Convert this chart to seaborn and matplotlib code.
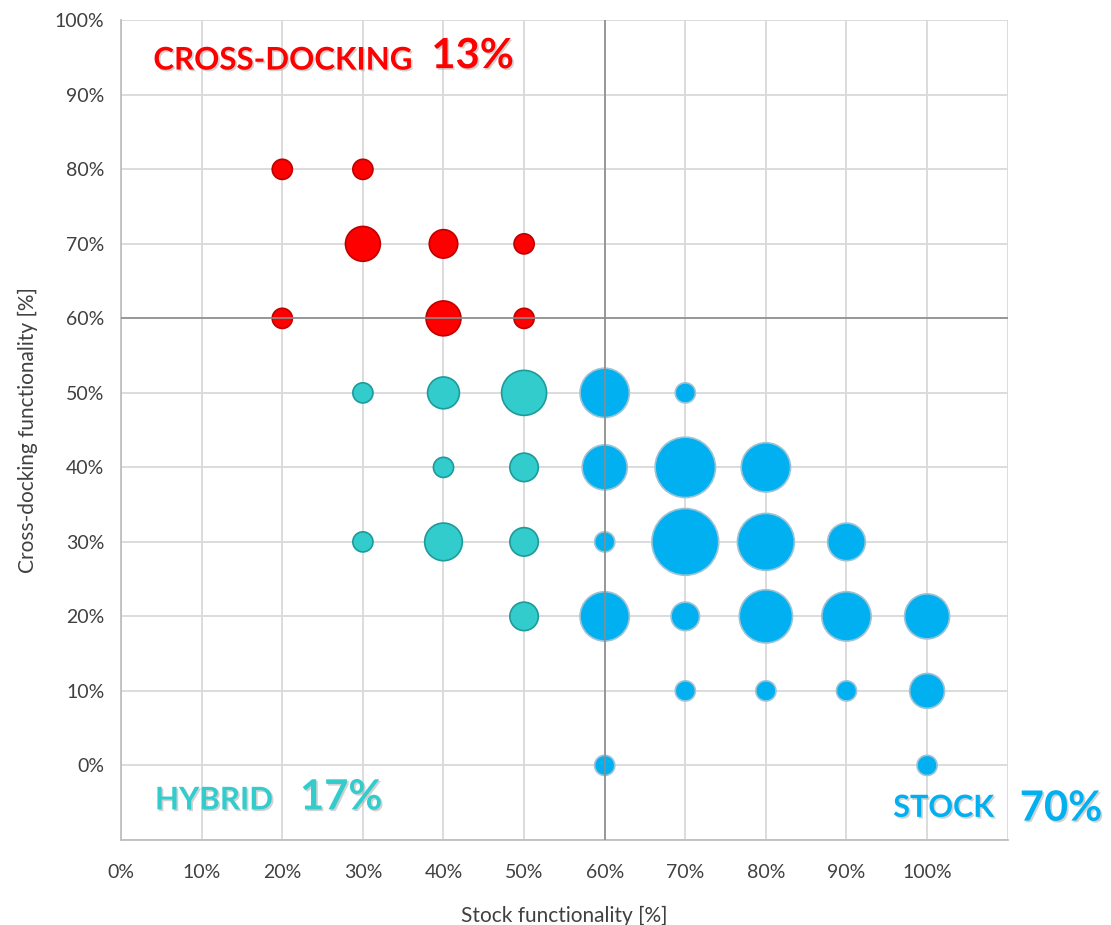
import matplotlib
matplotlib.use("Agg")
import matplotlib.pyplot as plt
import matplotlib.patheffects as pe
import seaborn as sns
import pandas as pd

# ---- data (x = stock functionality, y = cross-docking functionality, n = bubble size) ----
cross_x = [0.2, 0.3, 0.3, 0.4, 0.5, 0.2, 0.4, 0.5]
cross_y = [0.8, 0.8, 0.7, 0.7, 0.7, 0.6, 0.6, 0.6]
cross_n = [1, 1, 3, 2, 1, 1, 3, 1]

hybrid_x = [0.3, 0.4, 0.5, 0.4, 0.5, 0.3, 0.4, 0.5, 0.5]
hybrid_y = [0.5, 0.5, 0.5, 0.4, 0.4, 0.3, 0.3, 0.3, 0.2]
hybrid_n = [1, 2.5, 5, 1, 2, 1, 3.5, 2, 2]

stock_x = [0.6, 0.7, 0.6, 0.7, 0.8, 0.6, 0.7, 0.8, 0.9, 0.6, 0.7, 0.8, 0.9, 1.0,
           0.7, 0.8, 0.9, 1.0, 0.6, 1.0]
stock_y = [0.5, 0.5, 0.4, 0.4, 0.4, 0.3, 0.3, 0.3, 0.3, 0.2, 0.2, 0.2, 0.2, 0.2,
           0.1, 0.1, 0.1, 0.1, 0.0, 0.0]
stock_n = [6, 1, 5, 9, 6, 1, 11, 8, 3.5, 6, 2, 7, 6, 5,
           1, 1, 1, 3, 1, 1]

group_labels = ["CROSS-DOCKING", "HYBRID", "STOCK"]
group_shares = ["13%", "17%", "70%"]
tick_values = [0.0, 0.1, 0.2, 0.3, 0.4, 0.5, 0.6, 0.7, 0.8, 0.9, 1.0]
tick_labels = ["0%", "10%", "20%", "30%", "40%", "50%", "60%", "70%", "80%", "90%", "100%"]

RED, TEAL, BLUE = "#FF0000", "#33CCCC", "#00B0F0"

sns.set_theme(style="white")
plt.rcParams["font.family"] = ["Lato", "DejaVu Sans"]

fig = plt.figure(figsize=(11.11, 9.25), dpi=100)
ax = fig.add_axes([0.109, 0.092, 0.798, 0.886])

unit = 210  # marker area (pt^2) for size 1
frames = [
    (pd.DataFrame({"x": cross_x, "y": cross_y, "n": cross_n}), RED, "#C00000"),
    (pd.DataFrame({"x": hybrid_x, "y": hybrid_y, "n": hybrid_n}), TEAL, "#1E9A9A"),
    (pd.DataFrame({"x": stock_x, "y": stock_y, "n": stock_n}), BLUE, "#9CC3D5"),
]
for df, fc, ec in frames:
    sns.scatterplot(data=df, x="x", y="y", size="n", sizes=(unit * 1, unit * 11),
                    size_norm=(1, 11), color=fc, edgecolor=ec, linewidth=1.2,
                    alpha=1, legend=False, ax=ax, zorder=3)

ax.set_xlim(0, 1.1)
ax.set_ylim(-0.1, 1.0)

# gridlines incl. the extra 110% / -10% lines
for v in [i / 10 for i in range(0, 12)]:
    ax.axvline(v, color="#D9D9D9", lw=1.3, zorder=1)
for v in [i / 10 for i in range(-1, 11)]:
    ax.axhline(v, color="#D9D9D9", lw=1.3, zorder=1)

# quadrant lines on top
ax.axvline(0.6, color="#8C8C8C", lw=1.2, zorder=4)
ax.axhline(0.6, color="#8C8C8C", lw=1.2, zorder=4)

ax.set_xticks(tick_values)
ax.set_xticklabels(tick_labels)
ax.set_yticks(tick_values)
ax.set_yticklabels(tick_labels)
ax.tick_params(axis="both", labelsize=14, labelcolor="#404040", length=0, pad=12)
ax.tick_params(axis="x", pad=17)

for s in ["top", "right"]:
    ax.spines[s].set_visible(False)
for s in ["left", "bottom"]:
    ax.spines[s].set_color("#BFBFBF")
    ax.spines[s].set_linewidth(1.3)

ax.set_xlabel("Stock functionality [%]", fontsize=15, color="#404040", labelpad=18)
ax.set_ylabel("Cross-docking functionality [%]", fontsize=15, color="#404040", labelpad=12)

shadow = [pe.withSimplePatchShadow(offset=(1.2, -1.2), shadow_rgbFace="#9A9A9A", alpha=0.45)]

ax.text(0.04, 0.946, group_labels[0], color=RED, fontsize=22.5, fontweight="bold",
        ha="left", va="center", path_effects=shadow, zorder=5)
ax.text(0.385, 0.952, group_shares[0], color=RED, fontsize=30, fontweight="bold",
        ha="left", va="center", path_effects=shadow, zorder=5)

ax.text(0.042, -0.047, group_labels[1], color=TEAL, fontsize=22.5, fontweight="bold",
        ha="left", va="center", path_effects=shadow, zorder=5)
ax.text(0.222, -0.043, group_shares[1], color=TEAL, fontsize=30, fontweight="bold",
        ha="left", va="center", path_effects=shadow, zorder=5)

ax.text(0.958, -0.057, group_labels[2], color=BLUE, fontsize=22, fontweight="bold",
        ha="left", va="center", path_effects=shadow, zorder=5, clip_on=False)
ax.text(1.115, -0.058, group_shares[2], color=BLUE, fontsize=30, fontweight="bold",
        ha="left", va="center", path_effects=shadow, zorder=5, clip_on=False)

fig.savefig("out.png", dpi=100, facecolor="white")
